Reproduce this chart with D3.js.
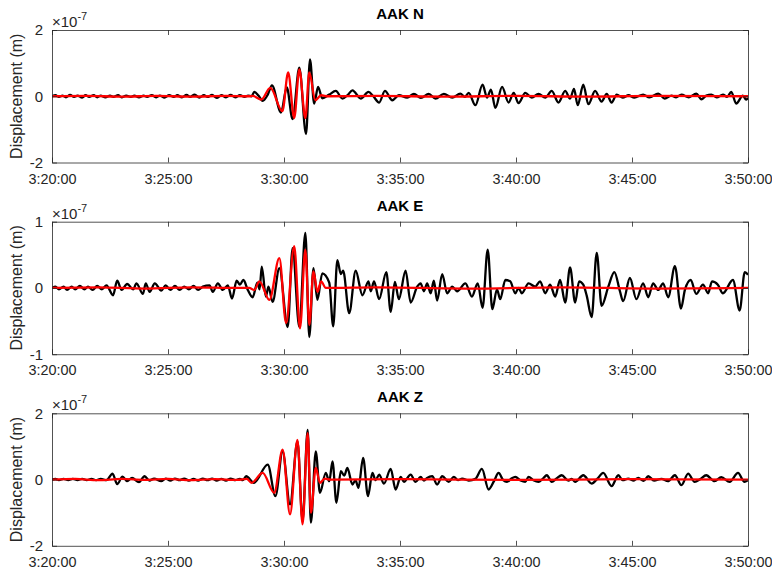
<!DOCTYPE html>
<html><head><meta charset="utf-8">
<script src="https://cdn.jsdelivr.net/npm/d3@7/dist/d3.min.js"></script>
<style>body{margin:0;background:#fff}svg{display:block}text{font-family:"Liberation Sans",Arial,Helvetica,sans-serif}</style>
</head><body><svg id="c" width="772" height="574"></svg>
<script>
// ---- data (time in minutes after 3:20:00, displacement in units of 1e-7 m) ----
const titles = ["AAK N", "AAK E", "AAK Z"];
const yLimits = [2, 1, 2];
const yTicksN = [-2, 0, 2];
const yTicksE = [-1, 0, 1];
const yTicksZ = [-2, 0, 2];
const xTickMinutes = [0, 5, 10, 15, 20, 25, 30];
const yLabel = "Displacement (m)";

const nBlack = [[0,0],[0.15,0.03],[0.3,-0.02],[0.45,0.02],[0.6,-0.03],[0.78,0.04],[0.95,-0.02],[1.1,0.02],[1.3,-0.04],[1.45,0.03],[1.6,-0.02],[1.8,0.03],[1.95,-0.03],[2.1,0.02],[2.3,-0.03],[2.5,0.02],[2.65,-0.02],[2.85,0.03],[3.0,-0.03],[3.2,0.02],[3.4,-0.02],[3.55,0.02],[3.75,-0.03],[3.95,0.02],[4.1,-0.02],[4.3,0.03],[4.5,-0.03],[4.65,0.02],[4.85,-0.04],[5.05,0.03],[5.25,-0.02],[5.4,0.03],[5.6,-0.03],[5.8,0.04],[5.95,-0.02],[6.15,0.05],[6.35,-0.04],[6.55,0.03],[6.7,-0.02],[6.9,0.04],[7.1,-0.05],[7.3,0.03],[7.5,-0.03],[7.7,0.04],[7.9,-0.03],[8.1,0.03],[8.3,-0.02],[8.45,0.02],[8.6,0],[8.72,0.13],[8.9,0.02],[9.08,-0.14],[9.3,0.05],[9.48,0.33],[9.87,-0.49],[10.12,0.27],[10.37,-0.69],[10.66,0.86],[10.95,-1.14],[11.12,1.11],[11.3,-0.22],[11.47,0.28],[11.65,-0.06],[11.95,0.05],[12.23,0.16],[12.52,-0.07],[12.75,0.04],[12.95,0.18],[13.31,-0.07],[13.64,0.13],[13.85,0.0],[14.1,-0.19],[14.35,0.16],[14.67,-0.12],[14.95,0.03],[15.31,-0.04],[15.6,0.07],[15.9,-0.05],[16.24,0.07],[16.53,-0.07],[16.89,0.07],[17.25,-0.04],[17.6,0.08],[17.8,-0.02],[17.96,0.1],[18.25,-0.27],[18.56,0.35],[18.75,-0.04],[18.92,0.2],[19.11,-0.35],[19.4,0.28],[19.68,-0.19],[19.9,0.1],[20.11,-0.21],[20.4,0.1],[20.68,-0.04],[20.97,0.07],[21.26,-0.04],[21.54,0.16],[21.83,-0.19],[22.12,0.16],[22.33,-0.07],[22.5,0.22],[22.66,-0.27],[22.9,0.35],[23.12,-0.24],[23.41,0.16],[23.69,-0.16],[23.91,0.07],[24.12,-0.19],[24.34,0.05],[24.6,-0.04],[24.85,0.03],[25.1,-0.04],[25.48,0.05],[25.75,-0.03],[26.13,0.08],[26.41,-0.07],[26.7,0.02],[26.9,-0.03],[27.13,0.05],[27.45,-0.03],[27.77,0.08],[27.99,-0.09],[28.2,0.02],[28.42,0.05],[28.65,-0.03],[28.92,0.05],[29.1,-0.02],[29.28,0.13],[29.49,-0.22],[29.78,0.02],[29.92,-0.1],[30,-0.05]];
const nRed = [[0,0],[1.5,0.01],[3,-0.01],[4.5,0.01],[6,-0.01],[7.5,0.01],[8.5,0],[8.65,0.01],[9.02,-0.1],[9.41,0.25],[9.93,-0.45],[10.18,0.72],[10.44,-0.66],[10.66,0.81],[10.92,-0.66],[11.09,0.72],[11.35,-0.12],[11.6,0.03],[11.9,0],[14,0.01],[17,-0.01],[20,0.01],[23,-0.01],[26,0.01],[30,0]];

const eBlack = [[0,0],[0.15,0.02],[0.3,-0.02],[0.5,0.02],[0.65,-0.03],[0.85,0.02],[1.0,-0.02],[1.2,0.03],[1.4,-0.02],[1.55,0.02],[1.75,-0.03],[1.95,0.03],[2.15,-0.02],[2.35,0.04],[2.63,-0.11],[2.81,0.11],[3.0,-0.03],[3.24,0.06],[3.5,-0.02],[3.64,0.07],[3.92,-0.09],[4.04,0.07],[4.21,-0.06],[4.43,0.07],[4.71,-0.04],[4.9,0.04],[5.1,-0.03],[5.3,0.03],[5.5,-0.03],[5.7,0.02],[5.9,-0.02],[6.1,0.03],[6.3,-0.03],[6.5,0.02],[6.79,0.04],[6.93,-0.06],[7.15,0.07],[7.36,-0.03],[7.58,0.04],[7.76,-0.16],[7.96,0.11],[8.1,0.05],[8.25,0.12],[8.44,-0.03],[8.65,-0.14],[8.85,0.08],[8.95,-0.02],[9.04,0.32],[9.22,-0.13],[9.33,0.02],[9.51,-0.21],[9.8,0.3],[10.16,-0.59],[10.37,0.6],[10.66,-0.59],[10.92,0.83],[11.09,-0.74],[11.27,0.3],[11.44,-0.18],[11.65,0.22],[11.95,0.08],[12.12,-0.58],[12.3,0.42],[12.45,0.21],[12.55,0.26],[12.81,-0.38],[13.09,0.26],[13.38,-0.11],[13.64,0.1],[13.74,-0.05],[13.88,0.1],[14.1,-0.17],[14.41,0.24],[14.6,-0.36],[14.78,0.09],[14.95,-0.17],[15.24,0.26],[15.46,-0.22],[15.74,0.02],[15.89,0.07],[16.03,-0.05],[16.17,0.07],[16.32,-0.08],[16.46,0.11],[16.6,-0.19],[16.82,0.21],[17.03,-0.08],[17.25,0.02],[17.46,-0.05],[17.82,0.07],[18.1,-0.13],[18.35,0.07],[18.56,-0.3],[18.78,0.58],[18.98,-0.32],[19.18,-0.02],[19.32,-0.17],[19.54,0.12],[19.75,0.1],[19.97,-0.08],[20.11,0],[20.25,-0.08],[20.54,0.07],[20.83,0.02],[21.04,0.1],[21.26,-0.08],[21.47,0.05],[21.69,-0.13],[21.9,0.12],[22.12,-0.22],[22.33,0.31],[22.55,-0.22],[22.72,0.1],[22.9,0.05],[23.05,-0.12],[23.26,-0.44],[23.48,0.53],[23.69,-0.27],[23.98,0.02],[24.24,0.24],[24.48,-0.05],[24.62,-0.2],[24.91,0.15],[25.19,-0.17],[25.48,0.07],[25.7,-0.14],[25.91,0.07],[26.13,-0.03],[26.34,0.07],[26.56,-0.14],[26.85,0.33],[27.11,-0.31],[27.28,-0.03],[27.53,0.12],[27.77,-0.09],[28.06,0.05],[28.28,-0.08],[28.45,0.1],[28.7,0.05],[28.92,-0.08],[29.35,0.12],[29.64,-0.34],[29.86,0.24],[30,0.2]];
const eRed = [[0,0],[2,0.01],[4,-0.01],[6,0.01],[8,0],[8.5,0],[8.72,-0.03],[8.94,0.1],[9.37,-0.18],[9.8,0.45],[10.09,-0.53],[10.44,0.63],[10.69,-0.61],[10.92,0.58],[11.09,-0.56],[11.27,0.25],[11.44,-0.06],[11.6,0.1],[11.8,0],[14,0.01],[18,-0.01],[22,0.01],[26,-0.01],[30,0]];

const zBlack = [[0,0],[0.15,0.02],[0.3,-0.02],[0.5,0.02],[0.7,-0.02],[0.9,0.02],[1.1,-0.02],[1.3,0.02],[1.5,-0.02],[1.7,0.02],[1.9,-0.02],[2.1,0.02],[2.35,-0.02],[2.61,0.18],[2.81,-0.14],[3.04,0.09],[3.24,-0.05],[3.45,0.05],[3.75,-0.08],[3.99,0.1],[4.2,-0.03],[4.4,0.03],[4.71,-0.05],[4.9,0.03],[5.1,-0.03],[5.3,0.03],[5.5,-0.02],[5.7,0.03],[5.9,-0.03],[6.1,0.02],[6.3,-0.03],[6.5,0.03],[6.7,-0.02],[6.9,0.03],[7.1,-0.03],[7.3,0.02],[7.5,-0.03],[7.7,0.03],[7.9,-0.02],[8.1,0.02],[8.22,-0.02],[8.37,0.1],[8.7,-0.1],[9.3,0.45],[9.63,-0.5],[9.94,0.85],[10.26,-0.75],[10.58,1.15],[10.8,-1.25],[11.02,1.5],[11.16,-1.3],[11.37,0.85],[11.55,-0.4],[11.8,0.2],[11.95,-0.05],[12.09,0.55],[12.26,-0.7],[12.45,0.25],[12.6,0.12],[12.73,0.35],[12.95,-0.15],[13.08,-0.02],[13.21,-0.25],[13.41,0.65],[13.62,-0.5],[13.81,0.2],[13.95,-0.02],[14.1,0.15],[14.31,-0.12],[14.6,0.32],[14.81,-0.3],[15.03,0.08],[15.17,-0.07],[15.46,0.15],[15.67,-0.07],[15.89,0.08],[16.03,-0.03],[16.17,0.05],[16.39,0.1],[16.6,-0.15],[16.82,0.1],[17.1,-0.07],[17.32,0.08],[17.5,-0.02],[17.68,0.03],[17.96,-0.03],[18.25,0.02],[18.53,0.32],[18.82,-0.3],[19.05,-0.05],[19.25,0.2],[19.45,-0.02],[19.61,-0.07],[19.8,0.03],[19.97,0.08],[20.2,-0.03],[20.4,-0.07],[20.54,0.08],[20.75,-0.02],[20.97,-0.07],[21.15,0.02],[21.33,0.13],[21.54,-0.07],[21.75,0.03],[21.97,0.13],[22.26,-0.03],[22.4,0.02],[22.55,-0.07],[22.9,0.13],[23.26,-0.12],[23.5,0.02],[23.76,0.2],[24.12,-0.2],[24.41,0.13],[24.6,-0.02],[24.84,0.03],[25.05,-0.03],[25.27,0.05],[25.5,-0.04],[25.7,0.1],[25.95,-0.03],[26.27,0.02],[26.55,-0.05],[26.85,0.13],[27.13,-0.17],[27.42,0.18],[27.7,-0.07],[27.95,0.02],[28.2,0.13],[28.56,-0.05],[28.85,0.07],[29.21,-0.07],[29.57,0.2],[29.85,-0.07],[30,-0.02]];
const zRed = [[0,0],[1,0.02],[2,-0.02],[3,0.02],[4,-0.01],[5,0.02],[6,-0.02],[7,0.01],[8,-0.01],[8.4,0.02],[8.6,-0.1],[9.08,0.2],[9.58,-0.4],[9.94,0.9],[10.26,-1.05],[10.58,1.2],[10.8,-1.35],[11.02,1.4],[11.16,-1.0],[11.37,0.35],[11.55,-0.1],[11.75,0.03],[12,0],[15,0.01],[20,-0.01],[25,0.01],[30,0]];

const blackSeries = [nBlack, eBlack, zBlack];
const redSeries = [nRed, eRed, zRed];
const yTickSets = [yTicksN, yTicksE, yTicksZ];

// ---- drawing ----
const T0 = Date.UTC(2000, 0, 1, 3, 20, 0);
const toTime = m => new Date(T0 + m * 60000);
const svg = d3.select("#c");
const L = 52, R = 748, H = 132.5;
const tops = [30, 221.7, 413.3];
const axColor = "#262626";
const x = d3.scaleUtc().domain([toTime(0), toTime(30)]).range([L, R]);
const fmt = d3.utcFormat("%-H:%M:%S");

tops.forEach((top, i) => {
  const y = d3.scaleLinear().domain([-yLimits[i], yLimits[i]]).range([top + H, top]);
  const g = svg.append("g");
  const cid = "clip" + i;
  svg.append("clipPath").attr("id", cid).append("rect")
    .attr("x", L).attr("y", top).attr("width", R - L).attr("height", H);

  const line = d3.line().x(d => x(toTime(d[0]))).y(d => y(d[1])).curve(d3.curveMonotoneX);
  const plot = g.append("g").attr("clip-path", `url(#${cid})`);
  plot.append("path").datum(blackSeries[i]).attr("d", line)
    .attr("fill", "none").attr("stroke", "#000").attr("stroke-width", 2.3).attr("stroke-linejoin", "round");
  plot.append("path").datum(redSeries[i]).attr("d", line)
    .attr("fill", "none").attr("stroke", "#ff0000").attr("stroke-width", 2.3).attr("stroke-linejoin", "round");

  const xt = xTickMinutes.map(toTime);
  const styleAxis = (sel, fs) => {
    sel.selectAll(".domain").attr("stroke", axColor).attr("stroke-width", 0.8);
    sel.selectAll(".tick line").attr("stroke", axColor).attr("stroke-width", 0.8);
    sel.selectAll("text").attr("fill", axColor).attr("font-size", fs);
  };
  g.append("g").attr("transform", `translate(0,${top + H})`)
    .call(d3.axisBottom(x).tickValues(xt).tickFormat(fmt).tickSizeInner(-5).tickSizeOuter(0).tickPadding(11))
    .call(styleAxis, 14.4);
  g.append("g").attr("transform", `translate(0,${top})`)
    .call(d3.axisTop(x).tickValues(xt).tickFormat("").tickSizeInner(-5).tickSizeOuter(0))
    .call(styleAxis, 14.4);
  g.append("g").attr("transform", `translate(${L},0)`)
    .call(d3.axisLeft(y).tickValues(yTickSets[i]).tickFormat(d3.format("d")).tickSizeInner(-5).tickSizeOuter(0).tickPadding(9))
    .call(styleAxis, 15);
  g.append("g").attr("transform", `translate(${R},0)`)
    .call(d3.axisRight(y).tickValues(yTickSets[i]).tickFormat("").tickSizeInner(-5).tickSizeOuter(0))
    .call(styleAxis, 15);
  g.selectAll("text").filter(function(){return this.textContent.startsWith("\u2212");})
    .text(function(){return "-" + this.textContent.slice(1);});

  // title
  g.append("text").attr("x", (L + R) / 2).attr("y", top - 11).attr("text-anchor", "middle")
    .attr("font-weight", "bold").attr("font-size", 15).attr("fill", "#000").text(titles[i]);
  // exponent
  const ex = g.append("text").attr("x", L).attr("y", top - 3).attr("font-size", 15).attr("fill", axColor);
  ex.append("tspan").text("\u00d710");
  ex.append("tspan").attr("dy", -7).attr("font-size", 11).text("-7");
  // y label
  g.append("text").attr("transform", `translate(22,${top + H / 2}) rotate(-90)`)
    .attr("text-anchor", "middle").attr("font-size", 16).attr("fill", axColor).text(yLabel);
});
</script></body></html>
